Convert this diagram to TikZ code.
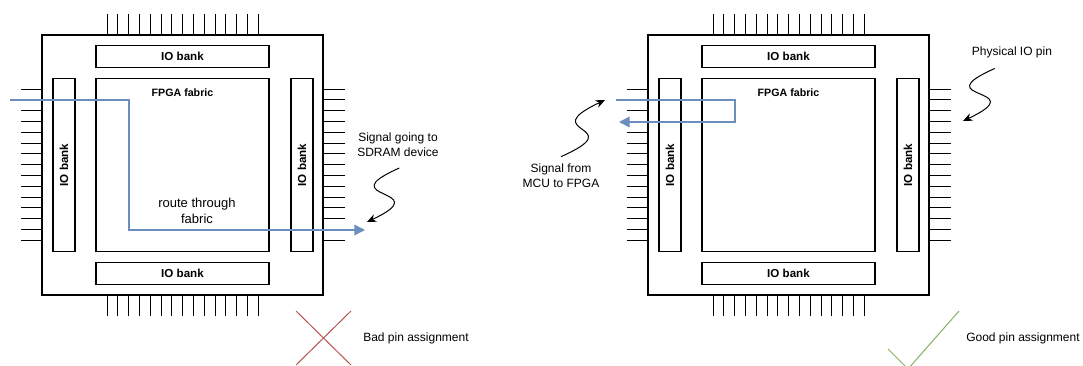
\documentclass[tikz,border=0pt]{standalone}
\usepackage{fontspec}
\setmainfont{Liberation Sans}
\usepackage{xcolor}
\usetikzlibrary{positioning, arrows.meta}
\definecolor{sigblue}{HTML}{6C8EBF}
\definecolor{badred}{HTML}{B85450}
\definecolor{goodgreen}{HTML}{82B366}
\tikzset{
  chip/.style={rectangle, draw, line width=0.9pt, inner sep=0pt, outer sep=0pt,
               minimum width=210.75pt, minimum height=195pt},
  fab/.style={rectangle, draw, line width=0.9pt, inner sep=0pt, outer sep=0pt,
              minimum width=129.75pt, minimum height=129.75pt},
  bank/.style={rectangle, draw, line width=0.9pt, inner sep=0pt, outer sep=0pt,
               minimum width=129.75pt, minimum height=16.5pt,
               font=\bfseries\fontsize{8.7}{10}\selectfont},
  pin/.style={line width=0.75pt},
  lbl/.style={align=center, inner sep=0pt, font=\fontsize{9}{11.25}\selectfont},
  sig/.style={draw=sigblue, line width=1pt, -{Triangle[length=8pt, width=8pt]}},
  hint/.style={-{Stealth[length=7pt, width=6pt]}, line width=0.75pt},
}
\begin{document}
\begin{tikzpicture}[x=0.75pt, y=-0.75pt]
  \useasboundingbox (0,0) rectangle (1083,365);
  \clip (0,0) rectangle (1083,365);
  % two packages, same floor plan
  \foreach \c/\dx in {L/0, R/606} {
    \node[chip] (pkg\c) at (182.5+\dx,165) {};
    \node[fab]  (fab\c) at (182.5+\dx,165) {};
    \node[bank, above=8pt of fab\c] (top\c) {IO bank};
    \node[bank, below=8pt of fab\c] (bot\c) {IO bank};
    \node[bank, rotate=90] (lft\c) at (64+\dx,165) {IO bank};
    \node[bank, rotate=90] (rgt\c) at (302+\dx,165) {IO bank};
    \node[font=\bfseries\fontsize{8}{10}\selectfont] (fabl\c) at (182.5+\dx,93) {FPGA fabric};
    % pins on all four sides
    \foreach \i in {0,...,14} {
      \draw[pin] (107+\dx+10.8*\i,14) -- ++(0,21);
      \draw[pin] (107+\dx+10.8*\i,295) -- ++(0,21);
      \draw[pin] (21+\dx,89+10.8*\i) -- ++(21,0);
      \draw[pin] (323+\dx,89+10.8*\i) -- ++(22,0);
    }
  }
  % signal paths
  \coordinate (inL) at (10,100);
  \coordinate (outL) at (365,230);
  \draw[sig] (inL) -- ++(119,0) |- (outL);
  \coordinate (inR) at (616,100);
  \coordinate (outR) at (619,122);
  \draw[sig] (inR) -- ++(119,0) |- (outR);
  % labels
  \node[lbl, font=\fontsize{9.75}{11.75}\selectfont] (route) at (197,211) {route through\\fabric};
  \node[lbl] (sdram) at (398,144.5) {Signal going to\\SDRAM device};
  \node[lbl] (mcu) at (561,175.5) {Signal from\\MCU to FPGA};
  \node[lbl] (phys) at (1012,52) {Physical IO pin};
  \node[lbl, anchor=west] (bad) at (363,338) {Bad pin assignment};
  \node[lbl, anchor=west] (good) at (966,338) {Good pin assignment};
  % squiggly pointers
  \coordinate (hitL) at (367,222);
  \coordinate (hitR) at (605,100);
  \coordinate (hitP) at (963,121);
  \draw[hint] ([xshift=1pt, yshift=-8.5pt]sdram.south) .. controls +(-72,32) and +(72,-34) .. (hitL);
  \draw[hint] ([yshift=5pt]mcu.north) .. controls +(72,-32) and +(-72,34) .. (hitR);
  \draw[hint] ([xshift=-13pt, yshift=-8pt]phys.south) .. controls +(-72,32) and +(72,-34) .. (hitP);
  % verdict marks
  \draw[badred, line width=0.75pt] (296,311) -- (351,365) (296,365) -- (351,311);
  \draw[goodgreen, line width=0.75pt] (888,349) -- (908,369) -- (959,311);
\end{tikzpicture}
\end{document}
